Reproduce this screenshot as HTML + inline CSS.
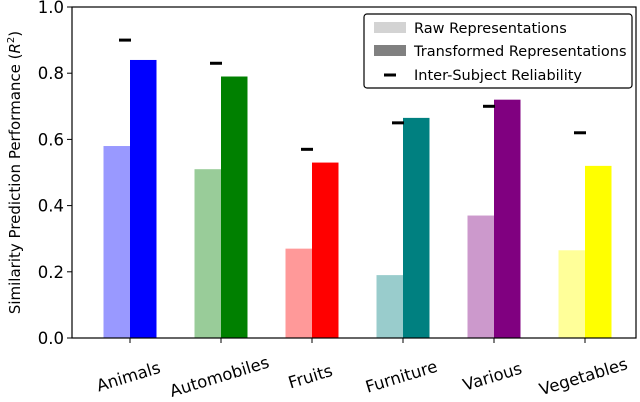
<!DOCTYPE html>
<html><head><meta charset="utf-8"><style>
body{margin:0;background:#fff}
svg{display:block;font-family:"DejaVu Sans","Liberation Sans",sans-serif}
</style></head><body>
<svg id="chart" width="640" height="402" viewBox="0 0 640 402"></svg>
<script>
const categories=["Animals","Automobiles","Fruits","Furniture","Various","Vegetables"];
const rawValues=[0.58,0.51,0.27,0.19,0.37,0.265];
const transformedValues=[0.84,0.79,0.53,0.665,0.72,0.52];
const reliabilityValues=[0.90,0.83,0.57,0.65,0.70,0.62];
const colors=["#0000ff","#008000","#ff0000","#008080","#800080","#ffff00"];
const yTicks=[0.0,0.2,0.4,0.6,0.8,1.0];
const NS="http://www.w3.org/2000/svg";
const svg=document.getElementById("chart");
const L=72,R=636,T=7,B=338;
const y=v=>B-(B-T)*v;
const x=i=>130+91*i;
const bw=26.5;
function mk(tag,attrs,parent){const e=document.createElementNS(NS,tag);for(const k in attrs)e.setAttribute(k,attrs[k]);(parent||svg).appendChild(e);return e;}
categories.forEach((c,i)=>{
  const r=mk("rect",{x:x(i)-bw,y:y(rawValues[i]),width:bw,height:B-y(rawValues[i]),fill:colors[i],"fill-opacity":0.4});
  
  
  const t=mk("rect",{x:x(i),y:y(transformedValues[i]),width:bw,height:B-y(transformedValues[i]),fill:colors[i]});
  
  
  const m=mk("line",{x1:x(i)-11,x2:x(i)+1,y1:y(reliabilityValues[i]),y2:y(reliabilityValues[i]),stroke:"#000","stroke-width":3});
  
  
  const tk=mk("line",{x1:x(i),x2:x(i),y1:B,y2:B+5,stroke:"#000","stroke-width":1});
  
  
  const lb=mk("text",{x:0,y:0,"font-size":16.5,"text-anchor":"middle",transform:`translate(${x(i)},${B+44}) rotate(-17)`});
  lb.textContent=c;
  
  
});
yTicks.forEach(v=>{
  const tk=mk("line",{x1:L-5,x2:L,y1:y(v),y2:y(v),stroke:"#000","stroke-width":1});
  
  
  const lb=mk("text",{x:L-8,y:y(v)+6,"font-size":16.5,"text-anchor":"end"});
  lb.textContent=v.toFixed(1);
  
  
});
const frame=mk("rect",{x:L,y:T,width:R-L,height:B-T,fill:"none",stroke:"#000","stroke-width":1.2});


const yt=mk("text",{x:0,y:0,"font-size":15,"text-anchor":"middle",transform:`translate(20,${(T+B)/2}) rotate(-90)`});
yt.innerHTML='Similarity Prediction Performance (<tspan font-style="italic">R</tspan><tspan dy="-6" font-size="10">2</tspan><tspan dy="6">)</tspan>';


</script>
<svg style="position:absolute;left:0;top:0" width="640" height="402">
<rect x="364" y="14" width="268" height="74" rx="3" fill="#fff" stroke="#000" stroke-width="1.2"/>
<rect x="374" y="22" width="32" height="11" fill="#d3d3d3"/>
<text x="414" y="33" font-size="14.5" font-family="DejaVu Sans,Liberation Sans,sans-serif">Raw Representations</text>
<rect x="374" y="45" width="32" height="11" fill="#808080"/>
<text x="414" y="56" font-size="14.5" font-family="DejaVu Sans,Liberation Sans,sans-serif">Transformed Representations</text>
<line x1="384" x2="396" y1="75" y2="75" stroke="#000" stroke-width="3"/>
<text x="414" y="80" font-size="14.5" font-family="DejaVu Sans,Liberation Sans,sans-serif">Inter-Subject Reliability</text>
</svg>
</body></html>
